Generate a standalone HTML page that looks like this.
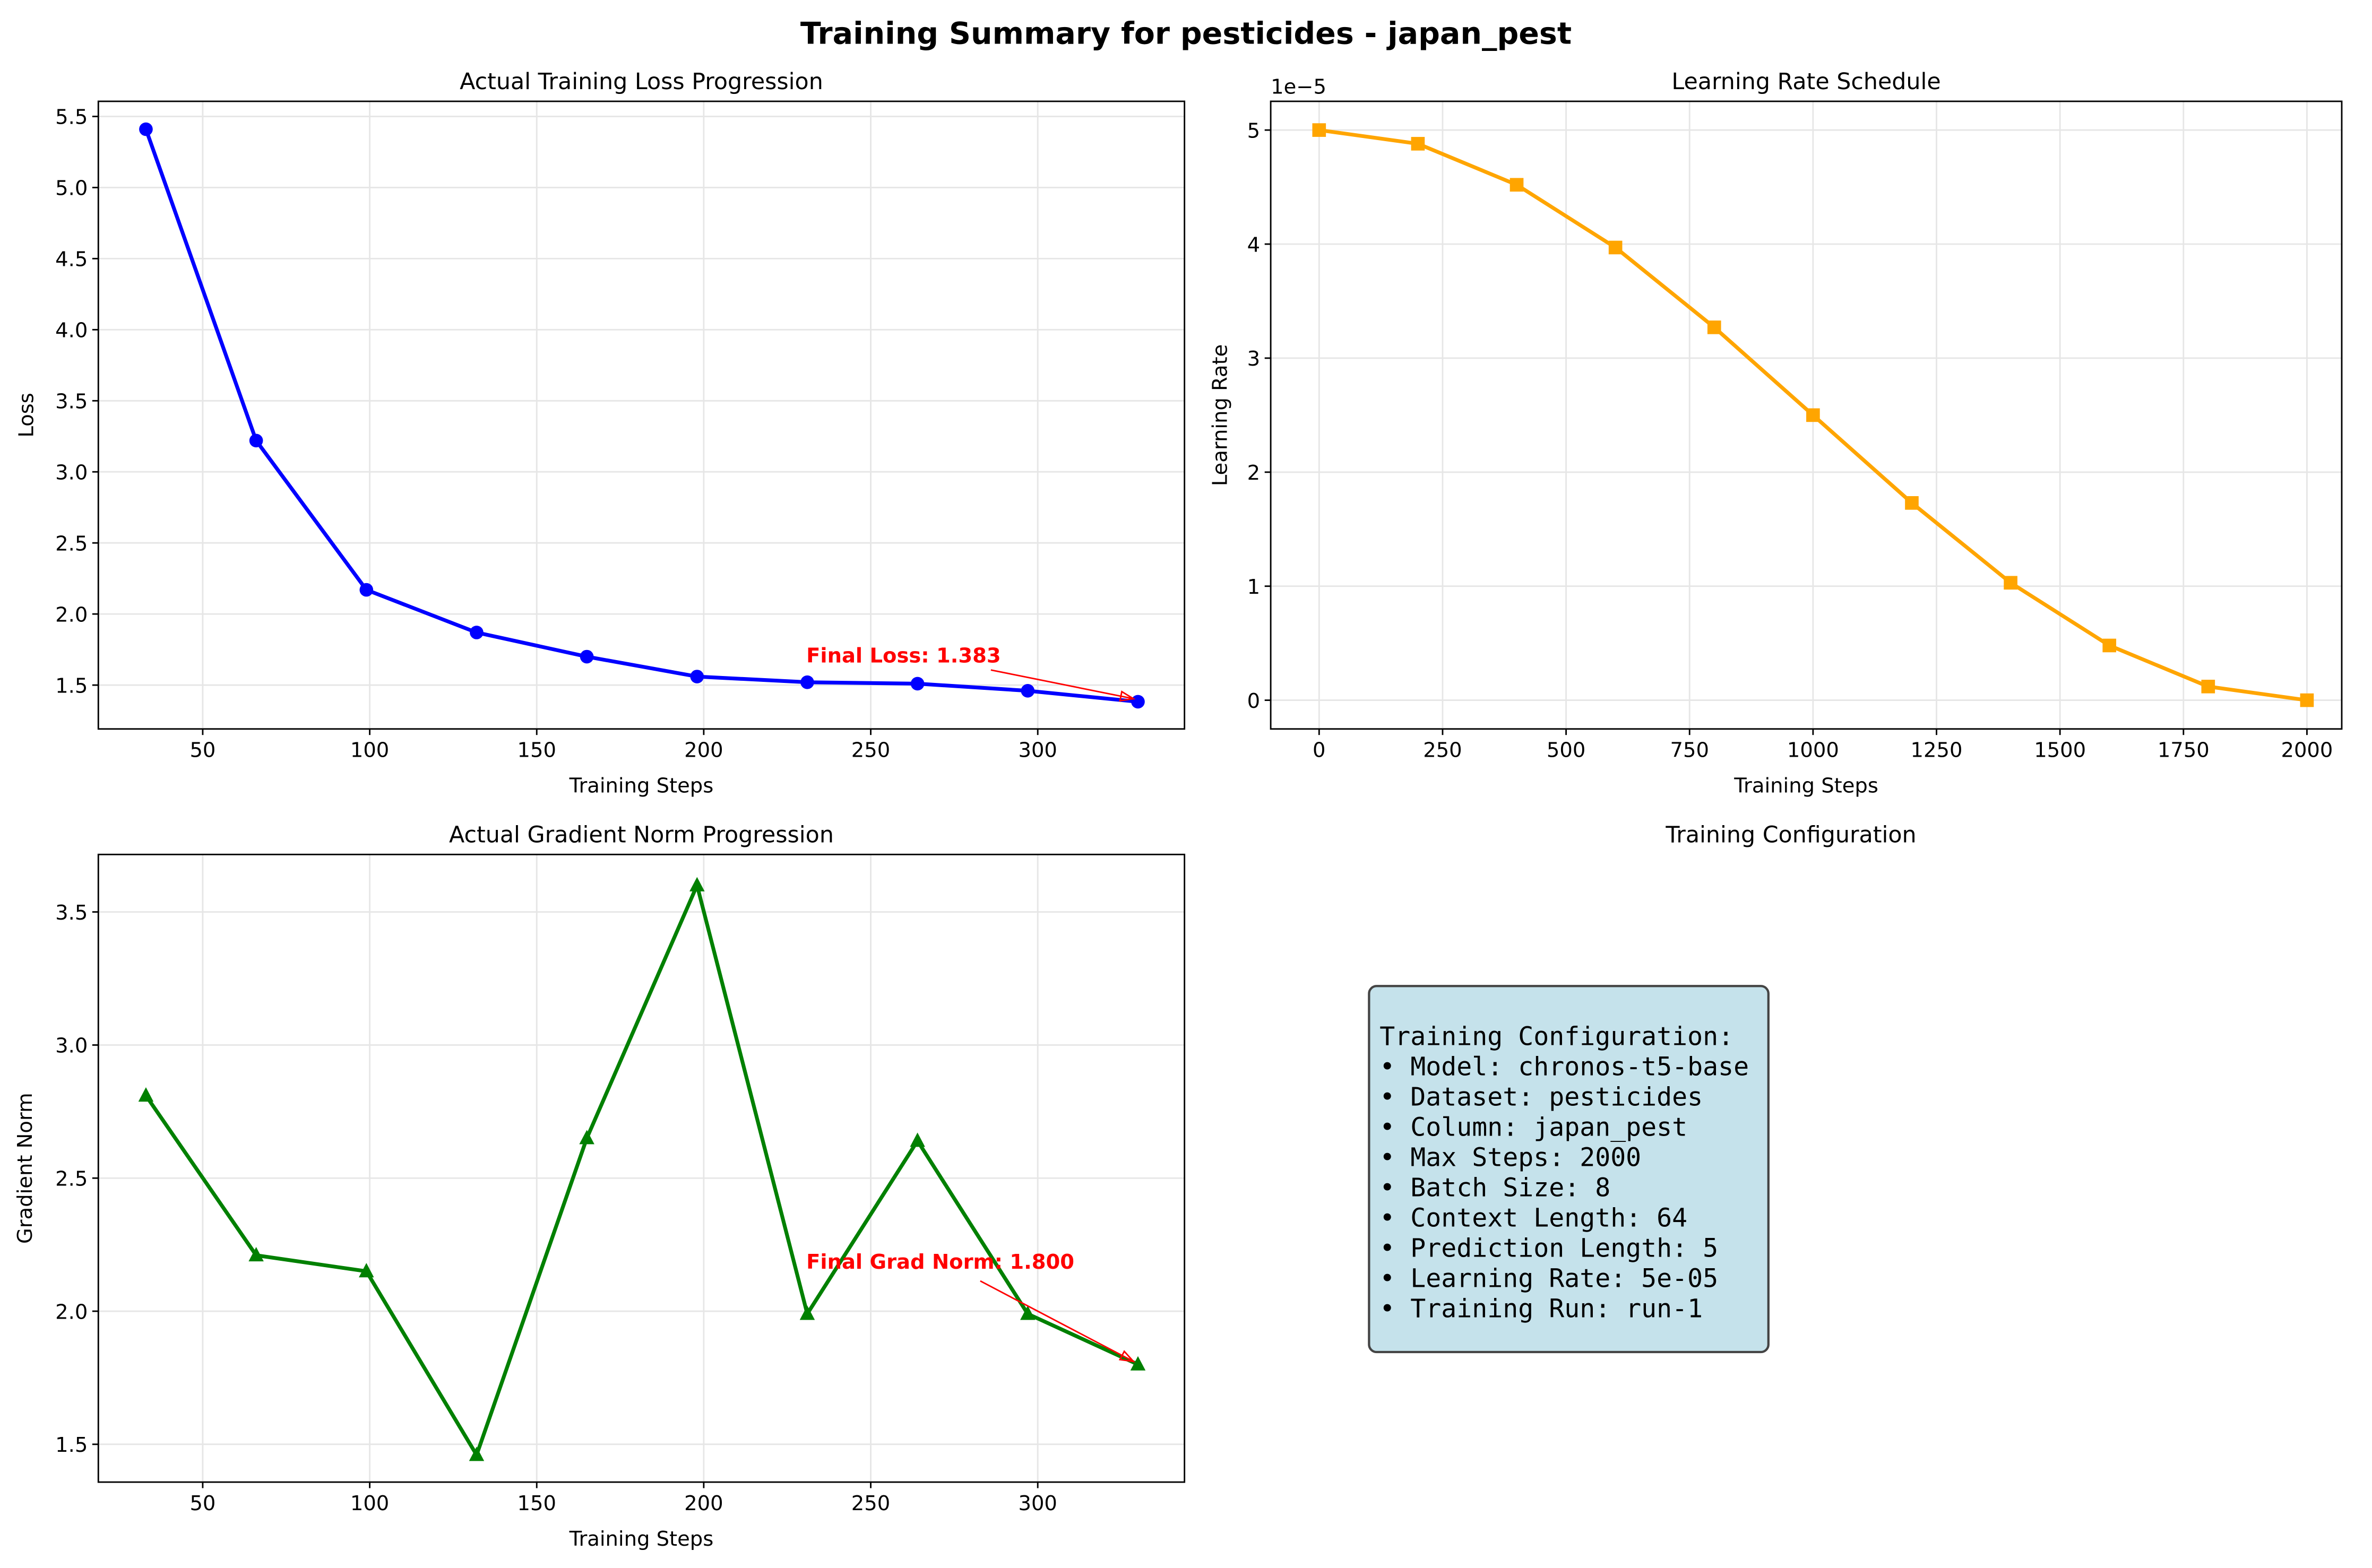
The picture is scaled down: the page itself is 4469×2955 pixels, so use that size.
<!DOCTYPE html>
<html><head><meta charset="utf-8"><style>
html,body{margin:0;padding:0;background:#fff;}
svg{display:block;font-family:"DejaVu Sans","Liberation Sans",sans-serif;}
</style></head><body>
<svg id="fig" width="4469" height="2955" viewBox="0 0 1568 1036.8" xmlns="http://www.w3.org/2000/svg">
<rect width="1568" height="1036.8" fill="#fff"/>
<text x="784" y="29" text-anchor="middle" font-size="20" font-weight="bold">Training Summary for pesticides - japan_pest</text>
<g id="root"></g>
<g>
<text x="1184" y="557" text-anchor="middle" font-size="15">Training Configuration</text>
<rect x="905" y="652" width="264" height="242" rx="5" fill="#c5e2eb" stroke="#444" stroke-width="1.5"/>
<text font-family="'DejaVu Sans Mono','Liberation Mono',monospace" font-size="16.9" x="912">
<tspan x="912" y="691">Training Configuration:</tspan>
<tspan x="912" y="711">• Model: chronos-t5-base</tspan>
<tspan x="912" y="731">• Dataset: pesticides</tspan>
<tspan x="912" y="751">• Column: japan_pest</tspan>
<tspan x="912" y="771">• Max Steps: 2000</tspan>
<tspan x="912" y="791">• Batch Size: 8</tspan>
<tspan x="912" y="811">• Context Length: 64</tspan>
<tspan x="912" y="831">• Prediction Length: 5</tspan>
<tspan x="912" y="851">• Learning Rate: 5e-05</tspan>
<tspan x="912" y="871">• Training Run: run-1</tspan>
</text>
</g>
</svg>
<script>
const lossSteps=[33,66,99,132,165,198,231,264,297,330];
const lossValues=[5.41,3.22,2.17,1.87,1.70,1.56,1.52,1.51,1.46,1.383];
const lrSteps=[0,200,400,600,800,1000,1200,1400,1600,1800,2000];
const lrValues=[5.0,4.88,4.52,3.97,3.27,2.50,1.73,1.03,0.48,0.12,0.0];
const gradSteps=[33,66,99,132,165,198,231,264,297,330];
const gradValues=[2.81,2.21,2.15,1.46,2.65,3.60,1.99,2.64,1.99,1.80];
const xTicksSmall=[50,100,150,200,250,300];
const lossYTicks=[1.5,2.0,2.5,3.0,3.5,4.0,4.5,5.0,5.5];
const lrXTicks=[0,250,500,750,1000,1250,1500,1750,2000];
const lrYTicks=[0,1,2,3,4,5];
const gradYTicks=[1.5,2.0,2.5,3.0,3.5];
const NS="http://www.w3.org/2000/svg";
const root=document.getElementById('root');
function mk(tag,attrs,parent,text){const e=document.createElementNS(NS,tag);for(const k in attrs)e.setAttribute(k,attrs[k]);if(text!==undefined)e.textContent=text;(parent||root).appendChild(e);return e;}
function panel(o){
  const pxPerX=(o.xa[1]-o.xa[0])/(o.xv[1]-o.xv[0]);
  const pxPerY=(o.ya[0]-o.ya[1])/(o.yv[1]-o.yv[0]);
  const sx=v=>o.xa[0]+(v-o.xv[0])*pxPerX;
  const sy=v=>o.ya[0]-(v-o.yv[0])*pxPerY;
  const g=mk('g',{});
  
  
  o.xt.forEach(t=>{const X=sx(t);
    mk('line',{x1:X,x2:X,y1:o.y0,y2:o.y1,stroke:'#e6e6e6','stroke-width':1},g);
    mk('line',{x1:X,x2:X,y1:o.y1,y2:o.y1+4,stroke:'#000'},g);
    const tl=mk('text',{x:X,y:o.y1+18.5,'text-anchor':'middle','font-size':13.5},g,String(t));
    
    });
  o.yt.forEach(t=>{const Y=sy(t);
    mk('line',{x1:o.x0,x2:o.x1,y1:Y,y2:Y,stroke:'#e6e6e6','stroke-width':1},g);
    mk('line',{x1:o.x0-4,x2:o.x0,y1:Y,y2:Y,stroke:'#000'},g);
    const tl=mk('text',{x:o.x0-7,y:Y+5,'text-anchor':'end','font-size':13.5},g,o.yfmt(t));
    
    });
  mk('rect',{x:o.x0,y:o.y0,width:o.x1-o.x0,height:o.y1-o.y0,fill:'none',stroke:'#000','stroke-width':1},g);
  const t=mk('text',{x:(o.x0+o.x1)/2,y:o.y0-8,'text-anchor':'middle','font-size':15},g,o.title);
  
  
  const xl=mk('text',{x:(o.x0+o.x1)/2,y:o.y1+42,'text-anchor':'middle','font-size':13.5},g,'Training Steps');
  
  
  const yx=o.ylx,yy=(o.y0+o.y1)/2;
  const yl=mk('text',{x:yx,y:yy,'text-anchor':'middle','font-size':13.5,transform:`rotate(-90 ${yx} ${yy})`},g,o.ylabel);
  
  
  const pts=o.xs.map((v,i)=>[sx(v),sy(o.ys[i])]);
  const pl=mk('polyline',{points:pts.map(p=>p.join(',')).join(' '),fill:'none',stroke:o.color,'stroke-width':2.5,'stroke-linejoin':'round'},g);
  
  
  pts.forEach(p=>{let m;
    if(o.marker==='o')m=mk('circle',{cx:p[0],cy:p[1],r:4.5,fill:o.color},g);
    else if(o.marker==='s')m=mk('rect',{x:p[0]-4.5,y:p[1]-4.5,width:9,height:9,fill:o.color},g);
    else m=mk('polygon',{points:`${p[0]},${p[1]-5.5} ${p[0]-5},${p[1]+4} ${p[0]+5},${p[1]+4}`,fill:o.color},g);
    
    });
  if(o.ann){const lp=pts[pts.length-1];
    const a=mk('text',{x:o.ann.tx,y:o.ann.ty,'font-size':13.5,'font-weight':'bold',fill:'red'},g,o.ann.text);
    
    
    const ax=lp[0]-3,ay=lp[1]-2,bx=o.ann.ax,by=o.ann.ay;
    mk('line',{x1:bx,y1:by,x2:ax,y2:ay,stroke:'red','stroke-width':1},g);
    const ang=Math.atan2(ay-by,ax-bx),L=9,w=0.35;
    mk('polygon',{points:`${ax},${ay} ${ax-L*Math.cos(ang-w)},${ay-L*Math.sin(ang-w)} ${ax-L*Math.cos(ang+w)},${ay-L*Math.sin(ang+w)}`,fill:'none',stroke:'red','stroke-width':1},g);}
  return g;
}
panel({name:'loss-chart',x0:65,x1:783,y0:67,y1:482,xa:[134,686],xv:[50,300],ya:[453,77],yv:[1.5,5.5],xt:xTicksSmall,yt:lossYTicks,ylx:22,
  yfmt:v=>v.toFixed(1),title:'Actual Training Loss Progression',ylabel:'Loss',xs:lossSteps,ys:lossValues,color:'blue',marker:'o',
  ann:{text:'Final Loss: '+lossValues[lossValues.length-1].toFixed(3),tx:533,ty:438,ax:655,ay:443}});
panel({name:'learning-rate-chart',x0:840,x1:1548,y0:67,y1:482,xa:[872,1525],xv:[0,2000],ya:[463,86],yv:[0,5],xt:lrXTicks,yt:lrYTicks,ylx:811,
  yfmt:v=>String(v),title:'Learning Rate Schedule',ylabel:'Learning Rate',xs:lrSteps,ys:lrValues,color:'orange',marker:'s'});
panel({name:'gradient-norm-chart',x0:65,x1:783,y0:565,y1:980,xa:[134,686],xv:[50,300],ya:[955,603],yv:[1.5,3.5],xt:xTicksSmall,yt:gradYTicks,ylx:21,
  yfmt:v=>v.toFixed(1),title:'Actual Gradient Norm Progression',ylabel:'Gradient Norm',xs:gradSteps,ys:gradValues,color:'green',marker:'^',
  ann:{text:'Final Grad Norm: '+gradValues[gradValues.length-1].toFixed(3),tx:533,ty:839,ax:648,ay:847}});
const ex=mk('text',{x:840,y:62,'font-size':13.5},root,'1e−5');


</script>
</body></html>
